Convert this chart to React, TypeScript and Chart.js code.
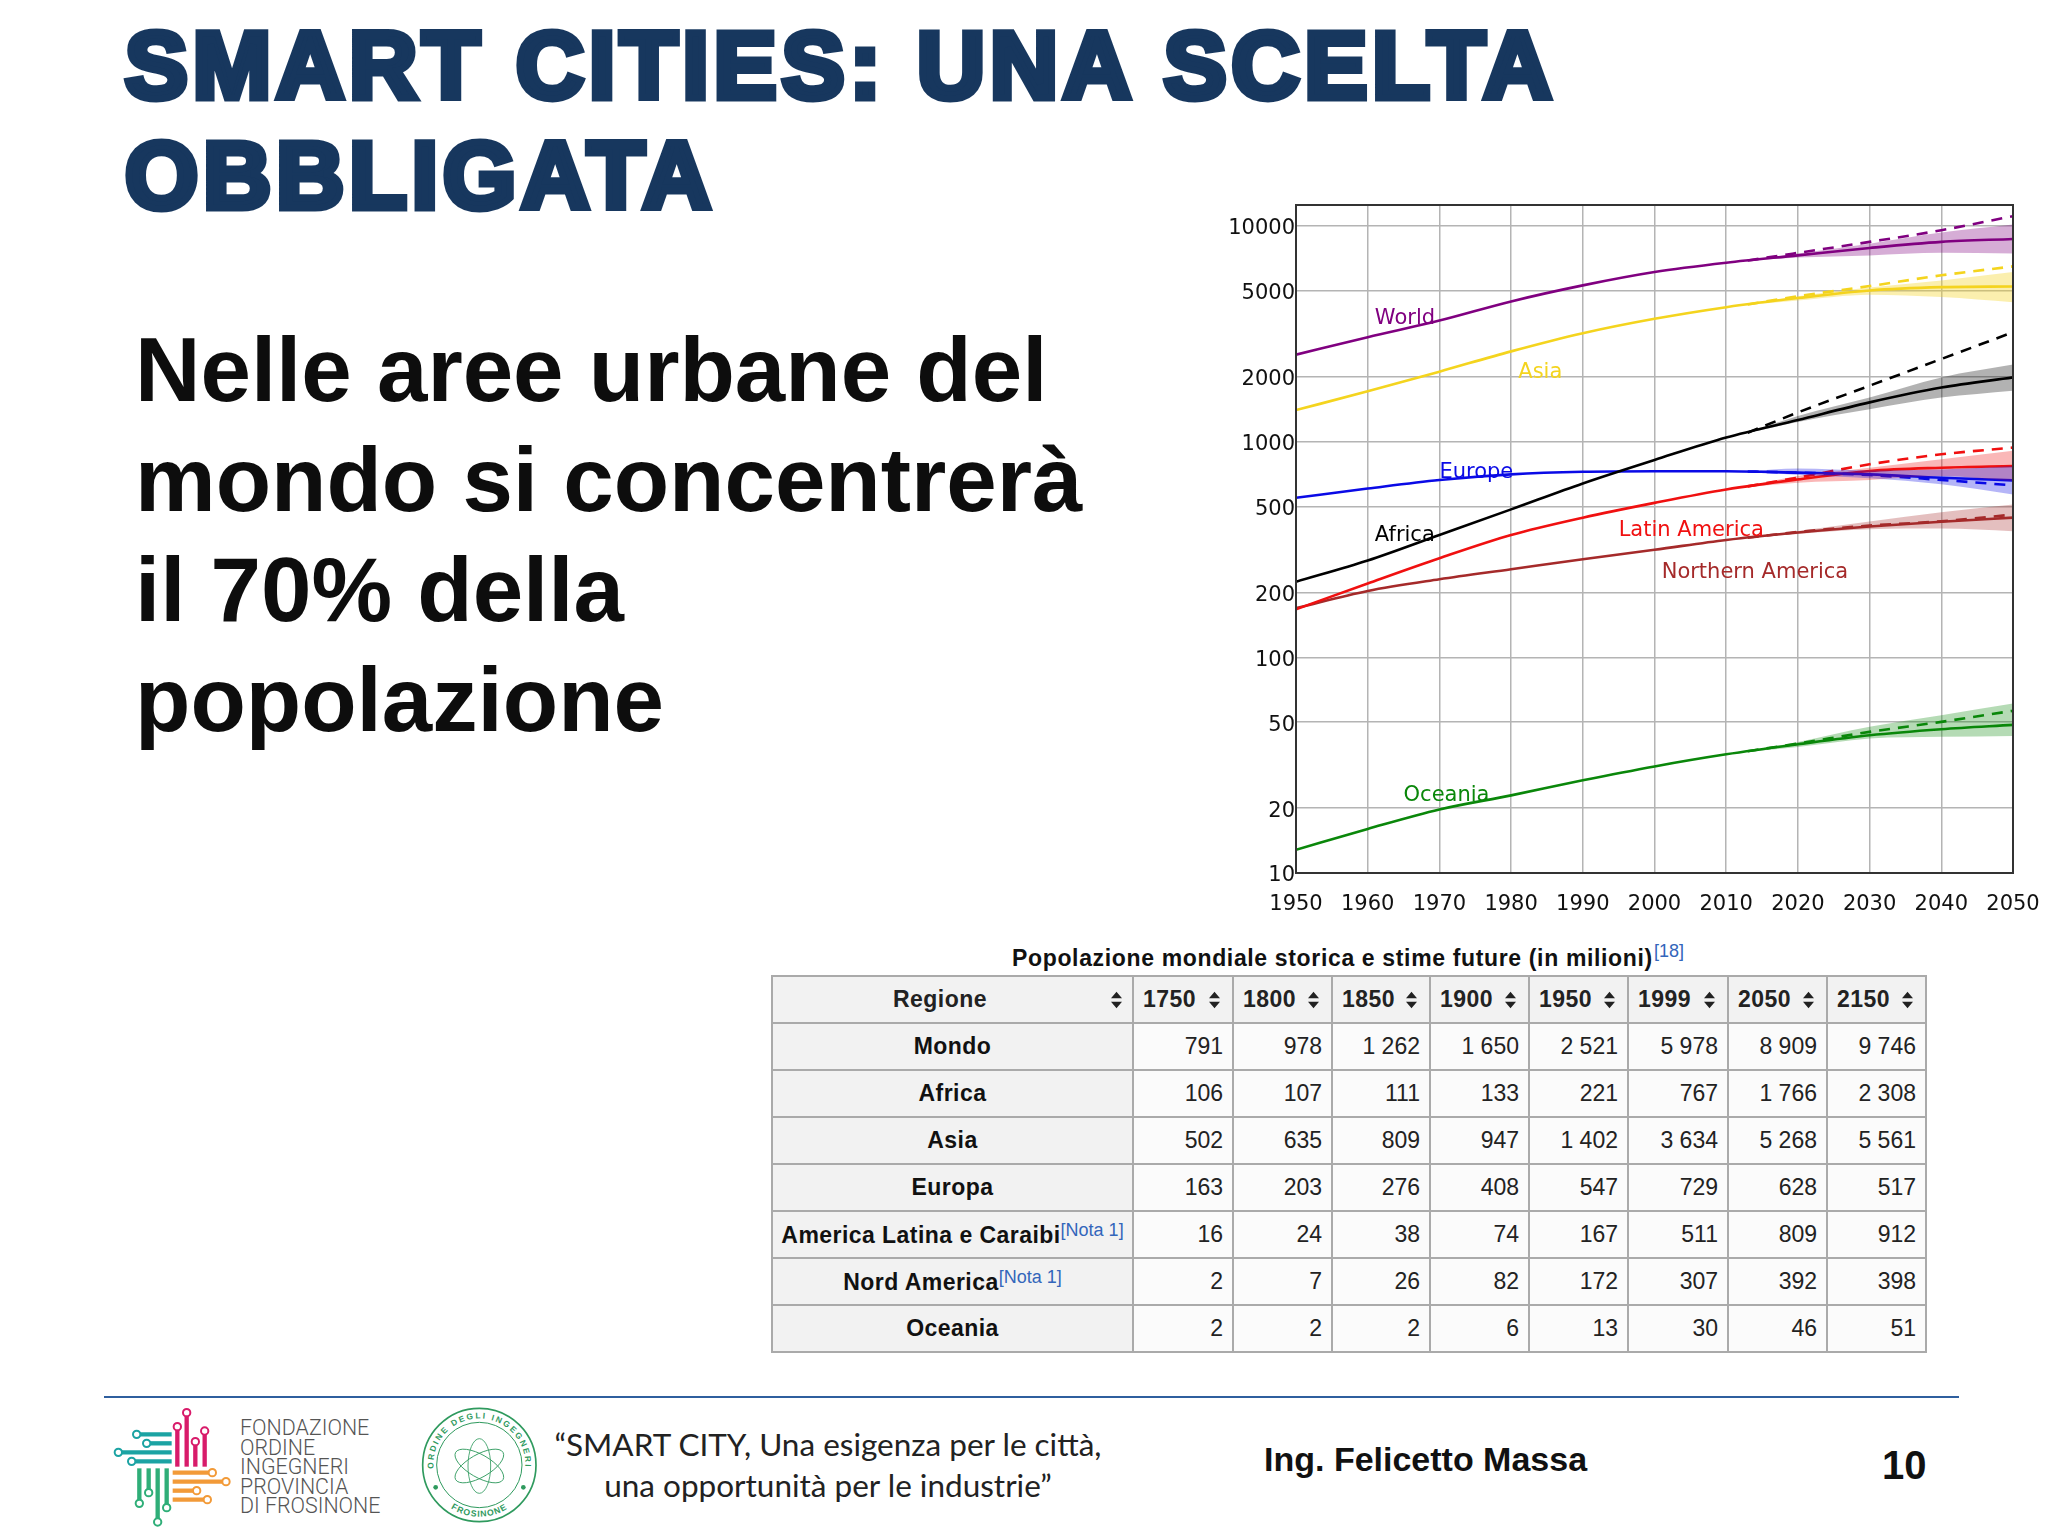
import React, { useEffect, useRef } from "react";
import { Chart, registerables } from "chart.js";

Chart.register(...registerables);

const years = [1950, 1960, 1970, 1980, 1990, 2000, 2010, 2020, 2030, 2040, 2050];
const projYears = [2013, 2020, 2030, 2040, 2050];

const world = [2530, 3050, 3640, 4466, 5300, 6110, 6750, 7300, 7900, 8430, 8700];
const worldHigh = [6910, 7500, 8430, 9550, 11090];
const worldUp = [6910, 7450, 8270, 9310, 10150];
const worldLow = [6890, 7130, 7300, 7500, 7440];

const asia = [1400, 1710, 2110, 2620, 3180, 3710, 4200, 4630, 5020, 5200, 5240];
const asiaHigh = [4320, 4720, 5260, 5900, 6490];
const asiaUp = [4320, 4720, 5180, 5590, 6110];
const asiaLow = [4300, 4510, 4800, 4680, 4430];

const africa = [224, 281, 369, 485, 640, 822, 1045, 1260, 1520, 1780, 1985];
const africaHigh = [1100, 1365, 1816, 2415, 3214];
const africaUp = [1100, 1315, 1600, 1985, 2275];
const africaLow = [1095, 1233, 1413, 1600, 1722];

const europe = [549, 606, 664, 705, 725, 729, 729, 718, 705, 680, 661];
const europeHigh = [727, 718, 700, 664, 627];
const europeUp = [728, 750, 735, 743, 771];
const europeLow = [726, 700, 676, 634, 569];

const latin = [167, 220, 288, 369, 444, 520, 600, 668, 731, 757, 771];
const latinHigh = [620, 681, 785, 873, 938];
const latinUp = [620, 692, 757, 828, 906];
const latinLow = [616, 645, 664, 692, 656];

const northern = [169, 203, 230, 256, 285, 315, 350, 379, 404, 425, 444];
const northernHigh = [358, 381, 408, 427, 459];
const northernUp = [358, 385, 426, 470, 511];
const northernLow = [357, 373, 392, 395, 384];

const oceania = [12.8, 16.0, 19.7, 22.9, 26.9, 31.2, 35.5, 39.5, 43.5, 46.4, 48.6];
const oceaniaHigh = [36.7, 39.8, 45.1, 50.2, 56.5];
const oceaniaUp = [36.7, 40.5, 47.6, 53.9, 61];
const oceaniaLow = [36.5, 38.4, 42, 42.8, 43.2];

const yTicks = [10, 20, 50, 100, 200, 500, 1000, 2000, 5000, 10000];
const xTicks = [1950, 1960, 1970, 1980, 1990, 2000, 2010, 2020, 2030, 2040, 2050];

const seriesDefs = [
  { name: "World", color: "#800080", band: "rgba(128,0,128,0.32)", mid: world, high: worldHigh, up: worldUp, low: worldLow },
  { name: "Asia", color: "#f4d41e", band: "rgba(244,212,30,0.36)", mid: asia, high: asiaHigh, up: asiaUp, low: asiaLow },
  { name: "Africa", color: "#000000", band: "rgba(0,0,0,0.3)", mid: africa, high: africaHigh, up: africaUp, low: africaLow },
  { name: "Europe", color: "#0a0ae6", band: "rgba(10,10,230,0.3)", mid: europe, high: europeHigh, up: europeUp, low: europeLow },
  { name: "Latin America", color: "#f01010", band: "rgba(240,16,16,0.3)", mid: latin, high: latinHigh, up: latinUp, low: latinLow },
  { name: "Northern America", color: "#a52a2a", band: "rgba(165,42,42,0.3)", mid: northern, high: northernHigh, up: northernUp, low: northernLow },
  { name: "Oceania", color: "#0a870a", band: "rgba(10,135,10,0.3)", mid: oceania, high: oceaniaHigh, up: oceaniaUp, low: oceaniaLow },
];

const labelNames = ["World", "Asia", "Europe", "Africa", "Latin America", "Northern America", "Oceania"];
const labelColors = ["#800080", "#f4d41e", "#0a0ae6", "#000000", "#f01010", "#a52a2a", "#0a870a"];
const labelYears = [1961, 1981, 1970, 1961, 1995, 2001, 1965];
const labelValues = [3512, 1982, 677, 346, 366, 234, 21.5];

const caption = "Popolazione mondiale storica e stime future (in milioni)";
const tableHead = ["1750", "1800", "1850", "1900", "1950", "1999", "2050", "2150"];
const regions = ["Mondo", "Africa", "Asia", "Europa", "America Latina e Caraibi", "Nord America", "Oceania"];
const regionNotes = ["", "", "", "", "[Nota 1]", "[Nota 1]", ""];
const tableMondo = ["791", "978", "1 262", "1 650", "2 521", "5 978", "8 909", "9 746"];
const tableAfrica = ["106", "107", "111", "133", "221", "767", "1 766", "2 308"];
const tableAsia = ["502", "635", "809", "947", "1 402", "3 634", "5 268", "5 561"];
const tableEuropa = ["163", "203", "276", "408", "547", "729", "628", "517"];
const tableLatina = ["16", "24", "38", "74", "167", "511", "809", "912"];
const tableNord = ["2", "7", "26", "82", "172", "307", "392", "398"];
const tableOceania = ["2", "2", "2", "6", "13", "30", "46", "51"];
const tableRows = [tableMondo, tableAfrica, tableAsia, tableEuropa, tableLatina, tableNord, tableOceania];

const pts = (xs: number[], ys: number[]) => xs.map((x, i) => ({ x, y: ys[i] }));

function buildDatasets() {
  const out: any[] = [];
  for (const s of seriesDefs) {
    out.push({ label: s.name + " upper", data: pts(projYears, s.up), borderWidth: 0, pointRadius: 0, fill: false, borderColor: "transparent", cubicInterpolationMode: "monotone" });
    out.push({ label: s.name + " lower", data: pts(projYears, s.low), borderWidth: 0, pointRadius: 0, fill: "-1", backgroundColor: s.band, borderColor: "transparent", cubicInterpolationMode: "monotone" });
  }
  for (const s of seriesDefs) {
    out.push({ label: s.name + " constant", data: pts(projYears, s.high), borderColor: s.color, borderWidth: 2.6, borderDash: [11, 8], pointRadius: 0, fill: false, cubicInterpolationMode: "monotone" });
    out.push({ label: s.name, data: pts(years, s.mid), borderColor: s.color, borderWidth: 2.6, pointRadius: 0, fill: false, cubicInterpolationMode: "monotone" });
  }
  return out;
}

const framePlugin = {
  id: "frameAndLabels",
  afterDraw(chart: any) {
    const { ctx, chartArea: a, scales } = chart;
    ctx.save();
    ctx.strokeStyle = "#333";
    ctx.lineWidth = 2;
    ctx.strokeRect(a.left, a.top, a.right - a.left, a.bottom - a.top);
    ctx.font = '21px "DejaVu Sans"';
    ctx.textAlign = "left";
    ctx.textBaseline = "alphabetic";
    labelNames.forEach((n, i) => {
      ctx.fillStyle = labelColors[i];
      ctx.fillText(n, scales.x.getPixelForValue(labelYears[i]), scales.y.getPixelForValue(labelValues[i]));
    });
    ctx.restore();
  },
};

function PopulationChart() {
  const ref = useRef<HTMLCanvasElement>(null);
  useEffect(() => {
    const chart = new Chart(ref.current as HTMLCanvasElement, {
      type: "line",
      data: { datasets: buildDatasets() },
      plugins: [framePlugin],
      options: {
        animation: false,
        responsive: false,
        devicePixelRatio: 1,
        layout: { padding: { top: 15, right: 35, left: 0, bottom: 0 } },
        plugins: { legend: { display: false }, tooltip: { enabled: false } },
        elements: { line: { borderCapStyle: "butt" } },
        scales: {
          x: {
            type: "linear",
            min: 1950,
            max: 2050,
            afterBuildTicks: (s: any) => { s.ticks = xTicks.map((value) => ({ value })); },
            afterFit: (s: any) => { s.height = 57; s.paddingLeft = 0; s.paddingRight = 0; },
            grid: { color: "#b4b4b4", lineWidth: 1.5, tickLength: 0, drawTicks: false },
            border: { display: false },
            ticks: { color: "#111", font: { family: "DejaVu Sans", size: 21 }, padding: 19, maxRotation: 0, autoSkip: false, callback: (v: any) => String(v) },
          },
          y: {
            type: "logarithmic",
            min: 10,
            max: 12500,
            afterBuildTicks: (s: any) => { s.ticks = yTicks.map((value) => ({ value })); },
            afterFit: (s: any) => { s.width = 96; s.paddingTop = 0; s.paddingBottom = 0; },
            grid: { color: "#b4b4b4", lineWidth: 1.5, drawTicks: false },
            border: { display: false },
            ticks: { color: "#111", font: { family: "DejaVu Sans", size: 21 }, padding: 1, labelOffset: 3, autoSkip: false, callback: (v: any) => String(v) },
          },
        },
      } as any,
    });
    return () => chart.destroy();
  }, []);
  return <canvas ref={ref} width={848} height={740} style={{ position: "absolute", left: 1200, top: 190, width: 848, height: 740 }} />;
}

const SortIcon = () => (
  <svg width="11" height="18" viewBox="0 0 12 18" style={{ flex: "none" }}>
    <path d="M6 0 L12 7 H0 Z M6 18 L0 11 H12 Z" fill="#222" />
  </svg>
);

const colWidths = [361, 100, 99, 98, 99, 99, 100, 99, 99];
const rowH = 47;

function PopTable() {
  const border = "2px solid #aaa";
  const cell: React.CSSProperties = { border, height: rowH - 2, padding: 0, boxSizing: "border-box" };
  return (
    <>
      <div style={{ position: "absolute", left: 1012, top: 941, whiteSpace: "nowrap", font: 'bold 23px "Liberation Sans"', letterSpacing: 0.65, color: "#111" }}>
        {caption}
        <sup style={{ font: '18px "Liberation Sans"', letterSpacing: 0, color: "#3366bb", verticalAlign: 9, marginLeft: 1 }}>[18]</sup>
      </div>
      <table style={{ position: "absolute", left: 771, top: 975, width: 1155, borderCollapse: "collapse", tableLayout: "fixed", font: '23px "Liberation Sans"', color: "#222" }}>
        <colgroup>{colWidths.map((w, i) => <col key={i} style={{ width: w }} />)}</colgroup>
        <thead>
          <tr style={{ height: rowH }}>
            <th style={{ ...cell, background: "#f2f2f2", fontWeight: "bold", letterSpacing: 0.5 }}>
              <div style={{ display: "flex", alignItems: "center", padding: "0 10px 0 8px" }}>
                <span style={{ flex: 1, textAlign: "center", marginRight: 12 }}>Regione</span><SortIcon />
              </div>
            </th>
            {tableHead.map((h) => (
              <th key={h} style={{ ...cell, background: "#f2f2f2", fontWeight: "bold", letterSpacing: 0.5 }}>
                <div style={{ display: "flex", alignItems: "center", justifyContent: "space-between", padding: "0 12px 0 9px" }}>
                  <span>{h}</span><SortIcon />
                </div>
              </th>
            ))}
          </tr>
        </thead>
        <tbody>
          {regions.map((r, i) => (
            <tr key={r} style={{ height: rowH }}>
              <th style={{ ...cell, background: "#f2f2f2", fontWeight: "bold", whiteSpace: "nowrap", color: "#111", letterSpacing: 0.45 }}>
                {r}
                {regionNotes[i] && <sup style={{ font: '18px "Liberation Sans"', letterSpacing: 0, color: "#3366bb", verticalAlign: 7 }}>{regionNotes[i]}</sup>}
              </th>
              {tableRows[i].map((v, j) => (
                <td key={j} style={{ ...cell, background: "#fbfbfb", textAlign: "right", paddingRight: 9 }}>{v}</td>
              ))}
            </tr>
          ))}
        </tbody>
      </table>
    </>
  );
}

function CircuitLogo() {
  const teal = "#1ba3a3", pink = "#d81b6a", orange = "#f29a38", green = "#2fae78";
  const lines: [string, number, number, number, number][] = [
    [teal, 140, 133, 245, 133], [teal, 170, 160, 245, 160], [teal, 85, 187, 245, 187], [teal, 125, 214, 245, 214],
    [pink, 290, 68, 290, 230], [pink, 262, 110, 262, 230], [pink, 316, 155, 316, 230], [pink, 344, 123, 344, 230],
    [orange, 367, 248, 248, 248], [orange, 408, 275, 248, 275], [orange, 320, 302, 248, 302], [orange, 352, 329, 248, 329],
    [green, 148, 340, 148, 235], [green, 176, 308, 176, 235], [green, 203, 396, 203, 235], [green, 230, 353, 230, 235],
  ];
  return (
    <svg width={500} height={146} viewBox="0 0 1500 438" style={{ position: "absolute", left: 90, top: 1390 }}>
      {lines.map(([c, x1, y1, x2, y2], i) => (
        <g key={i}>
          <line x1={x1} y1={y1} x2={x2} y2={y2} stroke={c} strokeWidth={13} />
          <circle cx={x1} cy={y1} r={11} fill="#fff" stroke={c} strokeWidth={6} />
        </g>
      ))}
      <g fill="none" stroke="#2f9a5e">
        <circle cx={1168} cy={225} r={170} strokeWidth={5} />
        <circle cx={1168} cy={225} r={128} strokeWidth={3} />
        <ellipse cx={1168} cy={228} rx={82} ry={34} strokeWidth={2.5} transform="rotate(30 1168 228)" />
        <ellipse cx={1168} cy={228} rx={82} ry={34} strokeWidth={2.5} transform="rotate(-30 1168 228)" />
        <ellipse cx={1168} cy={228} rx={82} ry={34} strokeWidth={2.5} transform="rotate(90 1168 228)" />
        <path id="sealTop" d="M1031 240 A138 138 0 1 1 1305 240" stroke="none" />
        <path id="sealBottom" d="M1011 240 A158 158 0 0 0 1325 240" stroke="none" />
      </g>
      <circle cx={1037} cy={292} r={7} fill="#2f9a5e" />
      <circle cx={1300} cy={292} r={7} fill="#2f9a5e" />
      <text fontFamily="Liberation Sans" fontWeight="bold" fontSize="25" fill="#2f9a5e">
        <textPath href="#sealTop" startOffset="4" textLength="452" lengthAdjust="spacing">ORDINE DEGLI INGEGNERI</textPath>
      </text>
      <text fontFamily="Liberation Sans" fontWeight="bold" fontSize="26" letterSpacing="3" fill="#2f9a5e" textAnchor="middle">
        <textPath href="#sealBottom" startOffset="50%">FROSINONE</textPath>
      </text>
    </svg>
  );
}

export default function App() {
  useEffect(() => { document.body.style.margin = "0"; }, []);
  return (
    <div style={{ position: "absolute", left: 0, top: 0, width: 2048, height: 1536, overflow: "hidden", background: "#fff" }}>
      <div style={{ position: "absolute", left: 125, top: 11, width: 1700, font: 'bold 94px/110px "Liberation Sans"', color: "#17375e", WebkitTextStroke: "7px #17375e", letterSpacing: 5.1 }}>
        SMART CITIES: UNA SCELTA<br />OBBLIGATA
      </div>
      <div style={{ position: "absolute", left: 135, top: 315, width: 1050, font: 'bold 90.7px/110px "Liberation Sans"', color: "#0d0d0d" }}>
        Nelle aree urbane del<br />mondo si concentrerà<br />il 70% della<br />popolazione
      </div>
      <PopulationChart />
      <PopTable />
      <div style={{ position: "absolute", left: 104, top: 1396, width: 1855, height: 2, background: "#2f5f9e" }} />
      <CircuitLogo />
      <div style={{ position: "absolute", left: 240, top: 1418, font: '300 21.4px/19.5px Roboto', color: "#555", whiteSpace: "nowrap" }}>
        FONDAZIONE<br />ORDINE<br />INGEGNERI<br />PROVINCIA<br />DI FROSINONE
      </div>
      <div style={{ position: "absolute", left: 508, top: 1424, width: 640, textAlign: "center", font: '31.5px/41px Lato', color: "#222" }}>
        “SMART CITY, Una esigenza per le città,<br />una opportunità per le industrie”
      </div>
      <div style={{ position: "absolute", left: 1264, top: 1440, font: 'bold 34px "Liberation Sans"', color: "#111", whiteSpace: "nowrap" }}>Ing. Felicetto Massa</div>
      <div style={{ position: "absolute", left: 1882, top: 1443, font: 'bold 40px "Liberation Sans"', color: "#111" }}>10</div>
    </div>
  );
}
